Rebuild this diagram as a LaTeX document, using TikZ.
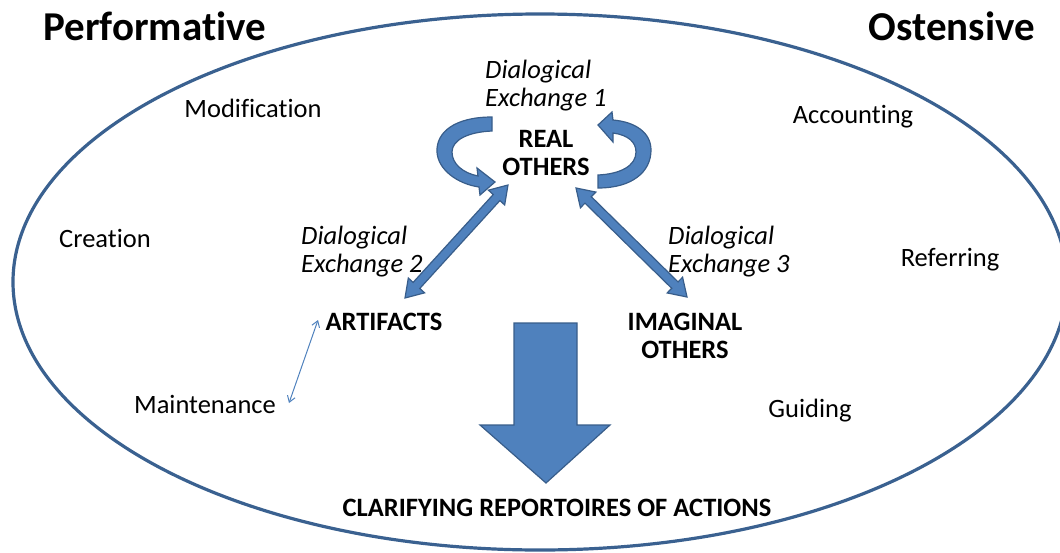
\documentclass[tikz,border=0pt]{standalone}
\usepackage{fontspec}
\setmainfont{Carlito}[Ligatures={NoCommon,NoContextual,NoRequired}]
\usetikzlibrary{calc,arrows.meta}
\definecolor{afill}{HTML}{4F81BD}
\definecolor{aline}{HTML}{385D8A}
\definecolor{ering}{HTML}{3A6190}
\newcommand\fatdbl[5]{% A, B, half shaft, half head, head length
  \path[bigarrow] (#1)
    -- ($(#1)!#5!(#2)!#4!90:(#2)$)
    -- ($(#1)!#5!(#2)!#3!90:(#2)$)
    -- ($(#2)!#5!(#1)!#3!-90:(#1)$)
    -- ($(#2)!#5!(#1)!#4!-90:(#1)$)
    -- (#2)
    -- ($(#2)!#5!(#1)!#4!90:(#1)$)
    -- ($(#2)!#5!(#1)!#3!90:(#1)$)
    -- ($(#1)!#5!(#2)!#3!-90:(#2)$)
    -- ($(#1)!#5!(#2)!#4!-90:(#2)$)
    -- cycle;}
\begin{document}
\begin{tikzpicture}[x=1pt,y=-1pt,
  bigarrow/.style={fill=afill,draw=aline,line width=1.2pt,line join=miter},
  lbl/.style={inner sep=0pt,font=\fontsize{26.5}{28}\selectfont},
  blbl/.style={inner sep=0pt,font=\fontsize{26.5}{28}\selectfont\bfseries,align=center},
  ilbl/.style={inner sep=0pt,font=\fontsize{26.5}{28}\selectfont\itshape,align=left,anchor=west},
  title/.style={inner sep=0pt,font=\fontsize{41}{44}\selectfont\bfseries}]
\useasboundingbox (0,0) rectangle (1060,552);
% ellipse
\draw[ering,line width=3.2pt] (540,282) ellipse [x radius=527, y radius=268];
% titles
\node[title] (perf) at (155,26) {Performa\kern0pt tive};
\node[title] (ost) at (952,26) {Ostensive};
% labels
\node[lbl] (modif) at (253,108) {Modification};
\node[lbl] (acc) at (853,117) {Accounting};
\node[lbl] (crea) at (105,238) {Creation};
\node[lbl] (ref) at (950,260) {Referring};
\node[lbl] (maint) at (205,404) {Maintenance};
\node[lbl] (guid) at (810,411) {Guiding};
\node[ilbl] (de1) at (485,86) {Dialogical\\Exchange 1};
\node[ilbl] (de2) at (301,252) {Dialogical\\Exchange 2};
\node[ilbl] (de3) at (668,252) {Dialogical\\Exchange 3};
\node[blbl] (real) at (546,153) {REAL\\OTHERS};
\node[blbl] (art) at (384,322) {ARTIFACTS};
\node[blbl] (imag) at (685,336) {IMAGINAL\\OTHERS};
\node[blbl] (clar) at (557,508) {CLARIFYING REPORTOIRES OF ACTIONS};
% straight double arrows
\coordinate (l1) at (405,298);
\coordinate (l2) at (508,185);
\coordinate (r1) at (576,188);
\coordinate (r2) at (687,297);
\fatdbl{l1}{l2}{4.5pt}{11pt}{17pt}
\fatdbl{r1}{r2}{4.5pt}{11pt}{17pt}
% big down arrow
\path[bigarrow] (514,323) -- (577,323) -- (577,425) -- (610,425) -- (546,483)
  -- (480,425) -- (514,425) -- cycle;
% left curved arrow
\path[bigarrow] (492,117)
  .. controls (455,117) and (436,132) .. (437,152)
  .. controls (438,170) and (458,184) .. (479,187)
  -- (480,195) -- (495,182) -- (477,168) -- (478,176)
  .. controls (463,173) and (452,164) .. (452,152)
  .. controls (452,140) and (468,132) .. (492,131) -- cycle;
% right curved arrow
\path[bigarrow] (598,188)
  .. controls (632,188) and (651,172) .. (651,150)
  .. controls (651,133) and (636,122) .. (613,120)
  -- (612,112) -- (598,125) -- (613,142) -- (613,133)
  .. controls (628,135) and (636,142) .. (636,152)
  .. controls (636,166) and (620,174) .. (598,175) -- cycle;
% thin double arrow
\coordinate (t1) at (289,403);
\coordinate (t2) at (318,320);
\draw[afill,line width=1pt,{Straight Barb[length=6pt,width=8pt]}-{Straight Barb[length=6pt,width=8pt]}] (t1) -- (t2);
\end{tikzpicture}
\end{document}
